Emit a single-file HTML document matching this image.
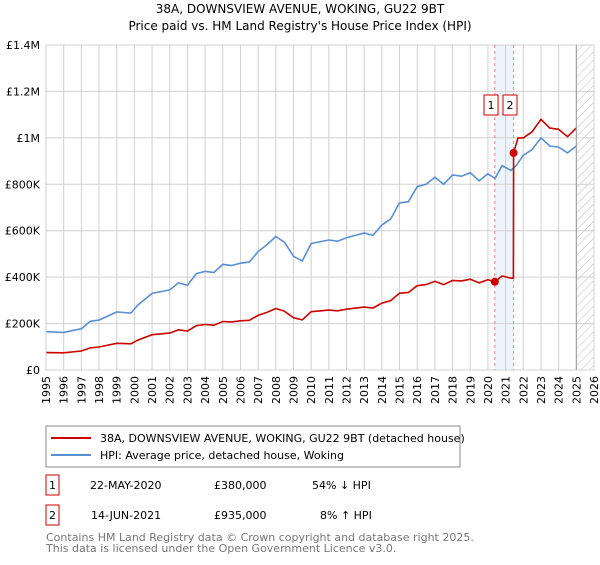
<!DOCTYPE html>
<html><head><meta charset="utf-8"><style>
body{margin:0;background:#fff;}
svg text{font-family:"DejaVu Sans","Liberation Sans",sans-serif;}
</style></head><body>
<svg id="chart" width="600" height="560" xmlns="http://www.w3.org/2000/svg">
<defs><pattern id="hatch" width="6" height="6" patternUnits="userSpaceOnUse" patternTransform="rotate(45)"><line x1="0" y1="0" x2="0" y2="6" stroke="#bbb" stroke-width="1"/></pattern></defs>
<text x="300" y="13" text-anchor="middle" font-size="12">38A, DOWNSVIEW AVENUE, WOKING, GU22 9BT</text>
<text x="300" y="30" text-anchor="middle" font-size="12">Price paid vs. HM Land Registry's House Price Index (HPI)</text>
<g id="grid"></g><g id="marks"></g><g id="axes"></g>
<g>
<rect x="46" y="426" width="414" height="41" fill="#fff" stroke="#888"/>
<line x1="51" y1="438" x2="91" y2="438" stroke="#cc0000" stroke-width="2"/>
<text x="100" y="442" font-size="11">38A, DOWNSVIEW AVENUE, WOKING, GU22 9BT (detached house)</text>
<line x1="51" y1="455" x2="91" y2="455" stroke="#5b8fd4" stroke-width="2"/>
<text x="100" y="459" font-size="11">HPI: Average price, detached house, Woking</text>
</g>
<g font-size="11">
<rect x="46" y="475" width="13" height="20" fill="#fff" stroke="#cc0000"/><text x="52.5" y="489" text-anchor="middle">1</text>
<text x="90" y="489">22-MAY-2020</text><text x="214" y="489">£380,000</text><text x="312" y="489">54% ↓ HPI</text>
</g>
<g font-size="11">
<rect x="46" y="505" width="13" height="20" fill="#fff" stroke="#cc0000"/><text x="52.5" y="519" text-anchor="middle">2</text>
<text x="91" y="519">14-JUN-2021</text><text x="214" y="519">£935,000</text><text x="320" y="519">8% ↑ HPI</text>
</g>
<text x="46" y="541" font-size="11" fill="#777">Contains HM Land Registry data © Crown copyright and database right 2025.</text>
<text x="46" y="552" font-size="11" fill="#777">This data is licensed under the Open Government Licence v3.0.</text>
</svg>
<script>
const hpiYears=[1995,1996,1997,1997.5,1998,1999,1999.8,2000.2,2001,2002,2002.5,2003,2003.5,2004,2004.5,2005,2005.5,2006,2006.5,2007,2007.5,2008,2008.5,2009,2009.5,2010,2011,2011.5,2012,2013,2013.5,2014,2014.5,2015,2015.5,2016,2016.5,2017,2017.5,2018,2018.5,2019,2019.5,2020,2020.4,2020.8,2021.3,2021.6,2022,2022.5,2023,2023.5,2024,2024.5,2025];
const hpiValues=[165,162,178,210,215,250,245,280,330,345,375,365,415,425,420,455,450,460,465,510,540,575,550,490,470,545,560,555,570,590,580,625,650,720,725,790,800,830,800,840,835,850,815,845,825,880,860,880,925,950,1000,965,960,935,965];
const priceYears=[1995,1996,1997,1997.5,1998,1999,1999.8,2000.2,2001,2002,2002.5,2003,2003.5,2004,2004.5,2005,2005.5,2006,2006.5,2007,2007.5,2008,2008.5,2009,2009.5,2010,2011,2011.5,2012,2013,2013.5,2014,2014.5,2015,2015.5,2016,2016.5,2017,2017.5,2018,2018.5,2019,2019.5,2020,2020.39,2020.8,2021.3,2021.44,2021.45,2021.7,2022,2022.5,2023,2023.5,2024,2024.5,2025];
const priceValues=[75,74,82,95,99,115,113,129,152,159,173,168,191,196,193,209,207,212,214,235,248,265,253,225,216,251,258,255,262,271,267,288,299,331,334,363,368,382,368,386,384,391,375,389,380,405,396,396,935,1000,1000,1026,1080,1042,1037,1005,1042];
const saleYears=[2020.39,2021.45];
const saleValues=[380,935];
const yTicks=[0,200,400,600,800,1000,1200,1400];
const yTickLabels=["£0","£200K","£400K","£600K","£800K","£1M","£1.2M","£1.4M"];
const xTicks=[];for(let y=1995;y<=2026;y++)xTicks.push(y);
const NS="http://www.w3.org/2000/svg";
const X0=46,X1=594,Y0=370,Y1=45;
const xs=y=>X0+(y-1995)/(2026-1995)*(X1-X0);
const ys=v=>Y0-v/1400*(Y0-Y1);
function mk(tag,attrs,parent){const e=document.createElementNS(NS,tag);for(const k in attrs)e.setAttribute(k,attrs[k]);parent.appendChild(e);return e;}
const grid=document.getElementById('grid'),marks=document.getElementById('marks'),axes=document.getElementById('axes');
// shaded band & hatch
const band=mk('rect',{x:xs(saleYears[0]),y:Y1,width:xs(saleYears[1])-xs(saleYears[0]),height:Y0-Y1,fill:'#eef4fc'},grid);


const hatch=mk('rect',{x:xs(2025),y:Y1,width:X1-xs(2025),height:Y0-Y1,fill:'url(#hatch)'},grid);


xTicks.forEach(t=>{const l=mk('line',{x1:xs(t),x2:xs(t),y1:Y1,y2:Y0,stroke:'#d0d0d0'},grid);


const tx=mk('text',{x:0,y:0,'font-size':11,'text-anchor':'end',transform:`translate(${xs(t)+4},${Y0+6}) rotate(-90)`},axes);tx.textContent=t;

});
yTicks.forEach((t,i)=>{const l=mk('line',{x1:X0,x2:X1,y1:ys(t),y2:ys(t),stroke:'#d0d0d0'},grid);


const tx=mk('text',{x:X0-6,y:ys(t)+4,'font-size':11,'text-anchor':'end'},axes);tx.textContent=yTickLabels[i];

});
const ax=mk('line',{x1:X0,x2:X0,y1:Y1,y2:Y0,stroke:'#ccc'},axes);


const bx=mk('line',{x1:xs(2025),x2:xs(2025),y1:Y1,y2:Y0,stroke:'#999'},axes);


saleYears.forEach((s,i)=>{const l=mk('line',{x1:xs(s),x2:xs(s),y1:Y1,y2:Y0,stroke:'#f08080','stroke-dasharray':'3,3'},grid);

});
function path(xa,va,color,name){const d=xa.map((x,i)=>(i?'L':'M')+xs(x).toFixed(1)+','+ys(va[i]).toFixed(1)).join('');
const p=mk('path',{d:d,fill:'none',stroke:color,'stroke-width':1.6},marks);

}
path(hpiYears,hpiValues,'#5b8fd4','hpi-line');
path(priceYears,priceValues,'#cc0000','price-paid-line');
saleYears.forEach((s,i)=>{const c=mk('circle',{cx:xs(s),cy:ys(saleValues[i]),r:4,fill:'#cc0000'},marks);


const g=mk('g',{},marks);


const bx0=xs(s)-(i===0?12:-7)-0;
mk('rect',{x:(i===0?484:503),y:95,width:14,height:20,fill:'#fff',stroke:'#cc0000'},g);
const t=mk('text',{x:(i===0?491:510),y:109,'font-size':11,'text-anchor':'middle'},g);t.textContent=String(i+1);});
</script>
</body></html>
